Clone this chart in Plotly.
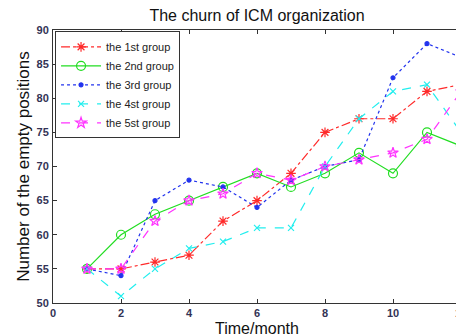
import plotly.graph_objects as go

months = list(range(1, 13))
group1 = [55, 55, 56, 57, 62, 65, 69, 75, 77, 77, 81, 82]
group2 = [55, 60, 63, 65, 67, 69, 67, 69, 72, 69, 75, 73]
group3 = [55, 54, 65, 68, 67, 64, 68, 70, 71, 83, 88, 86]
group4 = [55, 51, 55, 58, 59, 61, 61, 70, 77, 81, 82, 75]
group5 = [55, 55, 62, 65, 66, 69, 68, 70, 71, 72, 74, 81]
names = ["the 1st group", "the 2nd group", "the 3rd group", "the 4st group", "the 5st group"]
x_ticks = [0, 2, 4, 6, 8, 10, 12]
y_ticks = [50, 55, 60, 65, 70, 75, 80, 85, 90]

styles = [
    dict(color="#ff2a2a", dash="dashdot", symbol="asterisk-open", size=8),
    dict(color="#22dd22", dash="solid", symbol="circle-open", size=9),
    dict(color="#2233ee", dash="dot", symbol="circle", size=4),
    dict(color="#22eeee", dash="dash", symbol="x-thin-open", size=6),
    dict(color="#ff33ff", dash="dash", symbol="star-open", size=8),
]

FONT = "Liberation Sans, Arial"

fig = go.Figure()
for name, vals, st in zip(names, [group1, group2, group3, group4, group5], styles):
    fig.add_trace(go.Scatter(
        x=months, y=vals, name=name, mode="lines+markers",
        line=dict(color=st["color"], dash=st["dash"], width=1.2),
        marker=dict(symbol=st["symbol"], size=st["size"], color=st["color"],
                    line=dict(color=st["color"], width=1.2)),
    ))

axis_common = dict(
    showgrid=False, zeroline=False, showline=True, linecolor="#333", linewidth=1,
    mirror="ticks", ticks="inside", ticklen=4, tickcolor="#333", automargin=False,
    ticklabeloverflow="allow",
    tickfont=dict(family=FONT, size=11, color="#333355", weight="bold"),
)
fig.update_xaxes(range=[0, 12], tickvals=x_ticks, ticklabelstandoff=0, **axis_common)
fig.update_yaxes(range=[50, 90], tickvals=y_ticks, ticklabelstandoff=1,
                 title=dict(text="Number of the empty positions", font=dict(family=FONT, size=17, color="#111"), standoff=2),
                 **axis_common)

# page body has an 8px default margin, so the figure is drawn 8px in from top-left
fig.update_layout(
    width=456, height=328,
    margin=dict(l=45, r=3, t=22, b=33),
    paper_bgcolor="white", plot_bgcolor="white",
    title=dict(text="The churn of ICM organization", xref="paper", x=0.5, xanchor="center",
               y=0.994, yanchor="top",
               font=dict(family=FONT, size=16, color="#111")),
    legend=dict(x=0.005, y=0.995, xanchor="left", yanchor="top", bgcolor="white",
                bordercolor="#333", borderwidth=1, tracegroupgap=0,
                font=dict(family=FONT, size=11, color="#222"),
                itemwidth=40),
    showlegend=True,
    annotations=[dict(text="Time/month", xref="paper", yref="paper", x=0.5, y=-0.093,
                      xanchor="center", yanchor="middle", showarrow=False,
                      font=dict(family=FONT, size=16, color="#111"))],
)

fig.write_html("out.html")
